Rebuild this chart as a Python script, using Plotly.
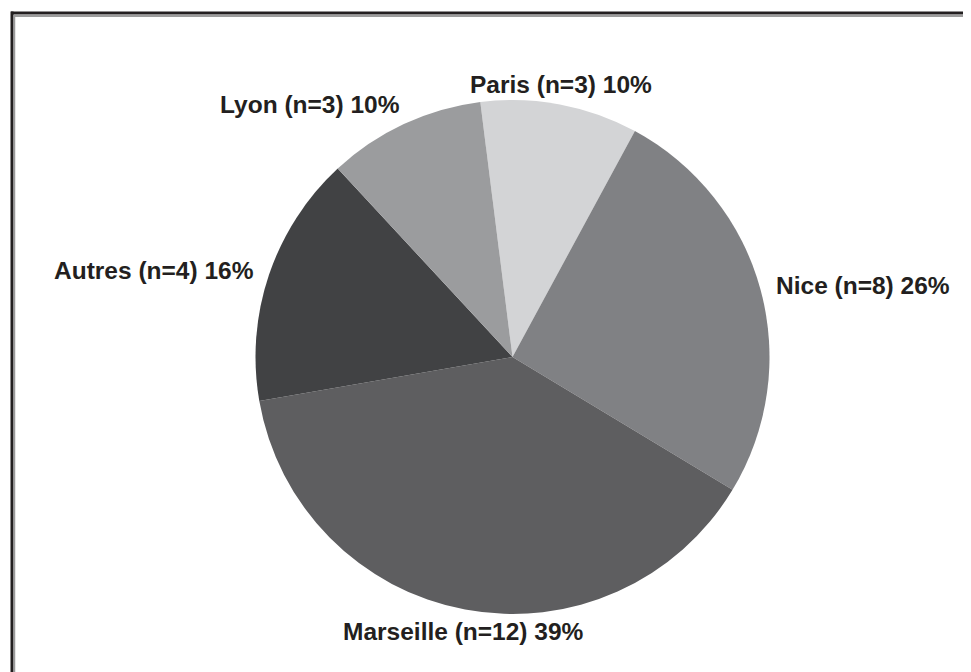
import math
import plotly.graph_objects as go

# Data
cities = ["Paris", "Nice", "Marseille", "Autres", "Lyon"]
counts = [3, 8, 12, 4, 3]
percents = [10, 26, 39, 16, 10]
colors = ["#d3d4d6", "#808184", "#5e5e60", "#414244", "#9b9c9e"]

labels_text = [f"{c} (n={n}) {p}%" for c, n, p in zip(cities, counts, percents)]

# page offset (browser body margin) is 8px; figure sized to fit the window
OFF = 8
W, H = 971 - OFF, 672 - OFF
cx, cy, r = 512.5 - OFF, 357 - OFF, 257
rotation = -7.2
FONT = dict(family="Liberation Sans, Arial, sans-serif", size=24.5, color="#231f20", weight="bold")

# mid-angle of each slice (degrees clockwise from 12 o'clock)
total = sum(percents)
mids = []
acc = 0
for p in percents:
    mids.append(rotation + (acc + p / 2) / total * 360)
    acc += p

# labels placed just outside each slice's mid-angle
annotations = []
for t, m in zip(labels_text, mids):
    a = math.radians(m)
    s, c = math.sin(a), math.cos(a)
    if abs(s) < 0.3:
        xanchor = "center"
    else:
        xanchor = "left" if s > 0 else "right"
    if c > 0.5:
        yanchor, gap = "bottom", 4
    elif c < -0.5:
        yanchor, gap = "top", 7
    else:
        yanchor, gap = "middle", 14
    x = cx + (r + gap) * s
    y = cy - (r + gap) * c
    annotations.append(dict(
        text=t, x=x / W, y=1 - y / H, xref="paper", yref="paper",
        xanchor=xanchor, yanchor=yanchor, showarrow=False, font=FONT,
    ))

fig = go.Figure(go.Pie(
    labels=cities,
    values=percents,
    textinfo="none",
    marker=dict(colors=colors, line=dict(width=0)),
    sort=False,
    direction="clockwise",
    rotation=rotation,
    showlegend=False,
    hoverinfo="none",
    domain=dict(x=[(cx - r) / W, (cx + r) / W], y=[1 - (cy + r) / H, 1 - (cy - r) / H]),
))

def px(x):
    return (x - OFF) / W

def py(y):
    return 1 - (y - OFF) / H

shapes = [
    dict(type="line", xref="paper", yref="paper", x0=px(11), x1=px(990), y0=py(13), y1=py(13),
         line=dict(color="#231f20", width=3)),
    dict(type="line", xref="paper", yref="paper", x0=px(14), x1=px(990), y0=py(16), y1=py(16),
         line=dict(color="#3a3a3a", width=1)),
    dict(type="line", xref="paper", yref="paper", x0=px(12), x1=px(12), y0=py(11.5), y1=py(690),
         line=dict(color="#231f20", width=3)),
    dict(type="line", xref="paper", yref="paper", x0=px(14.5), x1=px(14.5), y0=py(15), y1=py(690),
         line=dict(color="#9a9a9a", width=1.5)),
]

fig.update_layout(
    width=W, height=H,
    margin=dict(l=0, r=0, t=0, b=0),
    paper_bgcolor="white",
    plot_bgcolor="white",
    shapes=shapes,
    annotations=annotations,
)

fig.write_html("out.html")
